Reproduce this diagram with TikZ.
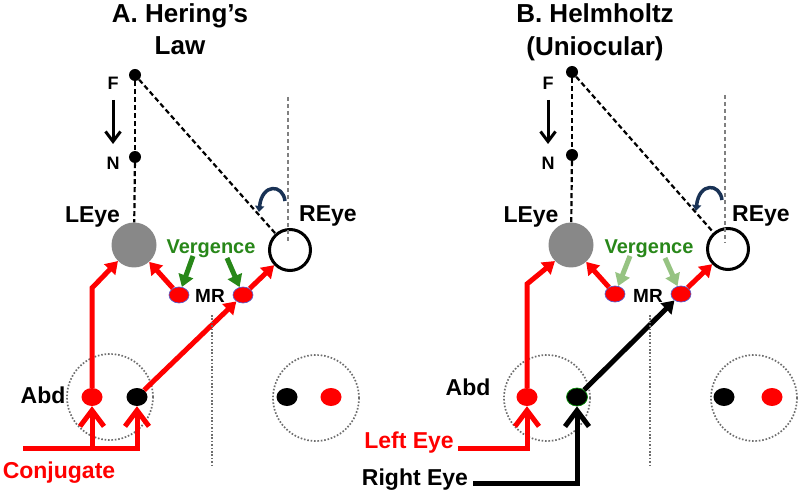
\documentclass[tikz,border=0pt]{standalone}
\usepackage{fontspec}
\setmainfont{Liberation Sans}
\usetikzlibrary{arrows.meta,shapes.geometric}
\definecolor{myred}{RGB}{255,0,0}
\definecolor{vgreen}{RGB}{40,135,25}
\definecolor{lgreen}{RGB}{150,195,130}
\definecolor{navyc}{RGB}{25,50,85}
\definecolor{eyegray}{RGB}{136,136,136}
\definecolor{dotgray}{RGB}{110,110,110}
\definecolor{mredge}{RGB}{90,90,200}
\begin{document}
\begin{tikzpicture}[x=1pt,y=-1pt,
  lbl/.style={font=\fontsize{23}{26}\selectfont\bfseries, inner sep=0pt, anchor=base},
  ttl/.style={font=\fontsize{26}{30}\selectfont\bfseries, inner sep=0pt, anchor=base},
  small/.style={font=\fontsize{18}{20}\selectfont\bfseries, inner sep=0pt, anchor=base},
  mrlbl/.style={font=\fontsize{19}{21}\selectfont\bfseries, inner sep=0pt, anchor=base},
  vlbl/.style={font=\fontsize{20}{22}\selectfont\bfseries, text=vgreen, inner sep=0pt, anchor=base},
  pt/.style={circle, fill=black, minimum size=12pt, inner sep=0pt},
  leye/.style={circle, fill=eyegray, minimum size=45pt, inner sep=0pt},
  reye/.style={circle, draw=black, line width=3pt, minimum size=41pt, inner sep=0pt},
  mr/.style={ellipse, fill=myred, draw=mredge, line width=0.7pt, minimum width=20pt, minimum height=16pt, inner sep=0pt},
  rdot/.style={ellipse, fill=myred, minimum width=21pt, minimum height=18pt, inner sep=0pt},
  bdot/.style={ellipse, fill=black, minimum width=21pt, minimum height=18pt, inner sep=0pt},
  zone/.style={circle, draw=dotgray, line width=1.7pt, dash pattern=on 1.6pt off 1.8pt, minimum size=86pt, inner sep=0pt},
  dashline/.style={draw=black, line width=2.2pt, dash pattern=on 5pt off 3pt},
  grayv/.style={draw=gray, line width=1.7pt, dash pattern=on 4.5pt off 2.5pt},
  sepline/.style={draw=dotgray, line width=1.7pt, dash pattern=on 1.6pt off 1.8pt},
  fnarrow/.style={draw=black, line width=3pt, -{Straight Barb[length=10pt,width=15pt]}},
  curv/.style={draw=navyc, line width=3.5pt, -{Triangle[length=6pt,width=9pt]}},
  tri/.style={-{Triangle[length=12pt,width=15pt]}},
  garrow/.style={draw=vgreen, line width=5pt, tri},
  larrow/.style={draw=lgreen, line width=5pt, tri},
  rarrow/.style={draw=myred, line width=5pt, tri},
  barrow/.style={draw=black, line width=5pt, tri},
  chev/.style={line width=5pt, -{Straight Barb[length=16pt,width=24pt]}}
]
\useasboundingbox (0,0) rectangle (800,494);

% ================= Panel A =================
\node[ttl] (tA1) at (180,23) {A. Hering’s};
\node[ttl] (tA2) at (180,55) {Law};
\node[pt] (FA) at (135,75) {};
\node[pt] (NA) at (135,157) {};
\node[small] (FlA) at (113,90) {F};
\node[small] (NlA) at (113,170) {N};
\coordinate (arA1) at (113,100);
\coordinate (arA2) at (113,144);
\node[leye] (LA) at (134,245) {};
\node[reye] (RA) at (290,250) {};
\node[lbl] (LlA) at (92.5,223) {LEye};
\node[lbl] (RlA) at (328,222) {REye};
\node[vlbl] (VA) at (211,254) {Vergence};
\node[mr] (mLA) at (179,295) {};
\node[mr] (mRA) at (243,295) {};
\node[mrlbl] (MRA) at (210,302) {MR};
\node[zone] (zA) at (110,397) {};
\node[zone] (zA2) at (316,398) {};
\node[rdot] (abA) at (92,397) {};
\node[bdot] (bkA) at (137,397) {};
\node[bdot] (bkA2) at (287,397) {};
\node[rdot] (rdA2) at (331,397) {};
\node[lbl] (AbdA) at (43,403) {Abd};
\node[lbl, text=myred] (conjA) at (59,478) {Conjugate};
\coordinate (vA1) at (288,97);
\coordinate (vA2) at (288,243);
\coordinate (sepA1) at (212,315);
\coordinate (sepA2) at (212,465);
\coordinate (cA1) at (285,201);
\coordinate (cA2) at (259,212);
\coordinate (gA1) at (193,256);
\coordinate (gA2) at (227,258);
\coordinate (bA) at (92,288);
\coordinate (cjL) at (23,448);
\coordinate (cjM) at (92,448);
\coordinate (cjR) at (137,448);

\draw[dashline] (FA) -- (NA);
\draw[dashline] (NA) -- (LA);
\draw[dashline] (FA) -- (RA);
\draw[fnarrow] (arA1) -- (arA2);
\draw[grayv] (vA1) -- (vA2);
\draw[curv] (cA1) .. controls (283,184) and (262,183) .. (cA2);
\draw[garrow] (gA1) -- (mLA);
\draw[garrow] (gA2) -- (mRA);
\draw[rarrow] (mLA) -- (LA);
\draw[rarrow] (mRA) -- (RA);
\draw[rarrow] (abA) -- (bA) -- (LA.south west);
\draw[rarrow] (bkA) -- (mRA);
\draw[chev, myred] (cjL) -- (cjR) -- (bkA);
\draw[chev, myred] (cjM) -- (abA);
\draw[sepline] (sepA1) -- (sepA2);

% ================= Panel B =================
\node[ttl] (tB1) at (595,23) {B. Helmholtz};
\node[ttl] (tB2) at (595,56) {(Uniocular)};
\node[pt] (FB) at (572,72) {};
\node[pt] (NB) at (572,155) {};
\node[small] (FlB) at (548,90) {F};
\node[small] (NlB) at (548,170) {N};
\coordinate (arB1) at (548,100);
\coordinate (arB2) at (548,144);
\node[leye] (LB) at (571,245) {};
\node[reye] (RB) at (728,249) {};
\node[lbl] (LlB) at (531,223) {LEye};
\node[lbl] (RlB) at (761,222) {REye};
\node[vlbl] (VB) at (649,254) {Vergence};
\node[mr] (mLB) at (615,294) {};
\node[mr] (mRB) at (681,294) {};
\node[mrlbl] (MRB) at (648,302) {MR};
\node[zone] (zB) at (547,398) {};
\node[zone] (zB2) at (754,398) {};
\node[rdot] (abB) at (527,397) {};
\node[bdot, draw=green!55!black, line width=0.7pt] (bkB) at (577,397) {};
\node[bdot] (bkB2) at (724,397) {};
\node[rdot] (rdB2) at (772,397) {};
\node[lbl] (AbdB) at (468,395) {Abd};
\node[lbl, text=myred] (leT) at (409,448) {Left Eye};
\node[lbl] (reT) at (415,485) {Right Eye};
\coordinate (vB1) at (725,95);
\coordinate (vB2) at (725,243);
\coordinate (sepB1) at (650,315);
\coordinate (sepB2) at (650,465);
\coordinate (cB1) at (722,200);
\coordinate (cB2) at (696,211);
\coordinate (gB1) at (630,256);
\coordinate (gB2) at (665,258);
\coordinate (bB) at (527,284);
\coordinate (leL) at (458,448);
\coordinate (leM) at (527,448);
\coordinate (reL) at (473,483);
\coordinate (reM) at (577,483);

\draw[dashline] (FB) -- (NB);
\draw[dashline] (NB) -- (LB);
\draw[dashline] (FB) -- (RB);
\draw[fnarrow] (arB1) -- (arB2);
\draw[grayv] (vB1) -- (vB2);
\draw[curv] (cB1) .. controls (720,183) and (699,182) .. (cB2);
\draw[larrow] (gB1) -- (mLB);
\draw[larrow] (gB2) -- (mRB);
\draw[rarrow] (mLB) -- (LB);
\draw[rarrow] (mRB) -- (RB);
\draw[rarrow] (abB) -- (bB) -- (LB.south west);
\draw[barrow] (bkB) -- (mRB);
\draw[chev, myred] (leL) -- (leM) -- (abB);
\draw[chev, black] (reL) -- (reM) -- (bkB);
\draw[sepline] (sepB1) -- (sepB2);
\end{tikzpicture}
\end{document}
